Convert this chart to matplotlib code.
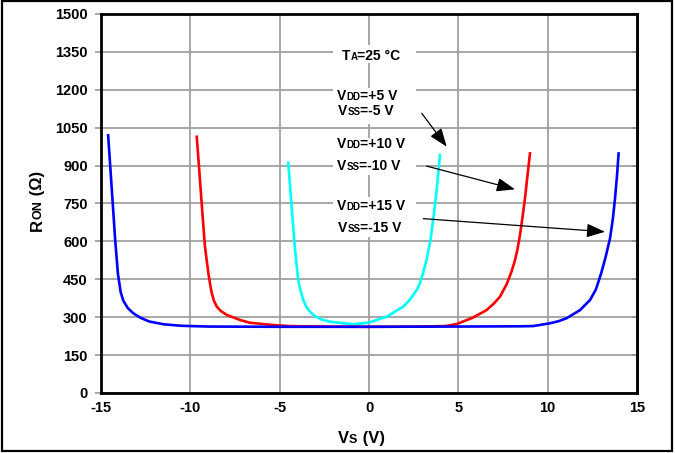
import numpy as np
import matplotlib
matplotlib.use('Agg')
import matplotlib.pyplot as plt
from matplotlib.patches import Rectangle

plt.rcParams['font.family'] = ['Liberation Sans', 'DejaVu Sans']
plt.rcParams['font.weight'] = 'bold'

# ---- R_ON vs V_S, three supply settings ----
vs_15 = [-14.6, -14.4, -14.2, -14.05, -13.9, -13.75, -13.5, -13.2, -12.8, -12.3, -11.5, -10.5, -9.0,
         -5.0, 0.0, 5.0, 8.5, 9.2, 10.13, 10.6, 11.06, 11.81, 12.37, 12.7, 13.0, 13.25, 13.49,
         13.65, 13.77, 13.88, 13.97]
ron_15 = [1020, 810, 600, 470, 400, 365, 336, 316, 298, 283, 272, 266, 263,
          262, 262, 263, 264, 265, 276, 284, 296, 328, 368, 410, 475, 540, 612,
          690, 770, 860, 948]

vs_10 = [-9.64, -9.46, -9.31, -9.18, -8.99, -8.88, -8.8, -8.68, -8.52, -8.3, -7.96, -7.22, -6.66,
         -5.37, -4.5, -3.0, 0.0, 3.0, 4.3, 4.91, 5.8, 6.58, 7.0, 7.33, 7.7, 7.95, 8.15, 8.3, 8.45,
         8.6, 8.73, 8.87, 9.01]
ron_10 = [1014, 843, 698, 579, 474, 425, 395, 365, 342, 325, 309, 289, 278,
          269, 265, 263, 262, 263, 265, 273, 298, 328, 355, 381, 430, 475, 520, 565, 625,
          700, 770, 860, 948]

vs_5 = [-4.52, -4.33, -4.14, -3.96, -3.85, -3.68, -3.5, -3.3, -3.12, -2.7, -2.18, -0.88, -0.04,
        0.99, 1.92, 2.3, 2.67, 2.85, 3.05, 3.23, 3.45, 3.6, 3.79, 3.97]
ron_5 = [911, 737, 566, 447, 410, 368, 340, 322, 309, 292, 282, 272, 278,
         302, 342, 370, 408, 434, 480, 530, 610, 690, 803, 942]

x_ticks = [-15, -10, -5, 0, 5, 10, 15]
y_ticks = [0, 150, 300, 450, 600, 750, 900, 1050, 1200, 1350, 1500]

# arrows: (text end, curve end)
arrows = [((2.95, 1107), (4.35, 975)),
          ((3.23, 898), (8.17, 806)),
          ((3.04, 690), (13.21, 638))]

W, H = 675, 453
fig = plt.figure(figsize=(W / 100, H / 100), dpi=100)
ax = fig.add_axes([101 / W, 1 - 393 / H, 536 / W, 379 / H])

grid_c = '#a0a0a0'
ax.plot(vs_5, ron_5, color='#00ffff', lw=1.9, zorder=3, solid_joinstyle='round')
ax.plot(vs_10, ron_10, color='#ff0000', lw=1.9, zorder=3, solid_joinstyle='round')
ax.plot(vs_15, ron_15, color='#0000ff', lw=1.9, zorder=4, solid_joinstyle='round')

ax.set_xlim(-15, 15)
ax.set_ylim(0, 1500)
ax.set_xticks(x_ticks)
ax.set_yticks(y_ticks)
ax.set_xticklabels([str(v) for v in x_ticks], fontsize=10.5, fontweight='bold')
ax.set_yticklabels([str(v) for v in y_ticks], fontsize=10.5, fontweight='bold')
ax.grid(True, color=grid_c, lw=1.3)
ax.set_axisbelow(True)
ax.tick_params(axis='x', length=0, pad=6)
ax.tick_params(axis='y', length=4.5, width=1.3, color=grid_c, pad=5)
for sp in ax.spines.values():
    sp.set_linewidth(2)
    sp.set_color('black')

# inward ticks on the right edge
sec = ax.secondary_yaxis('right')
sec.set_yticks(y_ticks)
sec.tick_params(direction='in', length=3.5, width=1.3, labelright=False)
sec.spines['right'].set_linewidth(2)

# white panels behind the annotation text
def px_box(x0, y0, x1, y1):
    ax.add_patch(Rectangle(((x0 - 101) / 536, (393 - y1) / 379), (x1 - x0) / 536, (y1 - y0) / 379,
                           transform=ax.transAxes, facecolor='white', edgecolor='none', zorder=2.5))

px_box(333, 45, 416, 63)
px_box(333, 88, 416, 124)
px_box(333, 138, 416, 175)
px_box(333, 197, 416, 237)

for start, tip in arrows:
    ax.annotate('', xy=tip, xytext=start,
                arrowprops=dict(arrowstyle='-|>,head_length=0.8,head_width=0.3',
                                color='black', lw=0.9, shrinkA=0, shrinkB=0,
                                mutation_scale=14), zorder=5)

renderer = fig.canvas.get_renderer()


def mixed_text(x, y, parts, rotation=0):
    # parts drawn one after another at a shared baseline, x/y in pixels from top-left
    for s, size in parts:
        t = fig.text(x / W, 1 - y / H, s, fontsize=size, fontweight='bold',
                     ha='left', va='baseline', rotation=rotation,
                     rotation_mode='anchor', zorder=6)
        bb = t.get_window_extent(renderer)
        if rotation == 90:
            y -= bb.height
        else:
            x += bb.width


big, small = 10, 7
mixed_text(342, 60, [('T', big), ('A', small), ('=25 °C', big)])
mixed_text(337, 100, [('V', big), ('DD', small), ('=+5 V', big)])
mixed_text(338, 114.5, [('V', big), ('SS', small), ('=-5 V', big)])
mixed_text(337, 148.5, [('V', big), ('DD', small), ('=+10 V', big)])
mixed_text(337, 170, [('V', big), ('SS', small), ('=-10 V', big)])
mixed_text(337, 210, [('V', big), ('DD', small), ('=+15 V', big)])
mixed_text(338, 232, [('V', big), ('SS', small), ('=-15 V', big)])

# axis titles
mixed_text(42, 231, [('R', 12), ('ON', 9), (' (Ω)', 12)], rotation=90)
mixed_text(338, 443, [('V', 12), ('S', 9), (' (V)', 12)])

# outer frame
fig.add_artist(Rectangle((1.5 / W, 1 - 451 / H), 670.5 / W, 450 / H, transform=fig.transFigure,
                         fill=False, edgecolor='black', lw=1.6))

fig.savefig('out.png', dpi=100)
